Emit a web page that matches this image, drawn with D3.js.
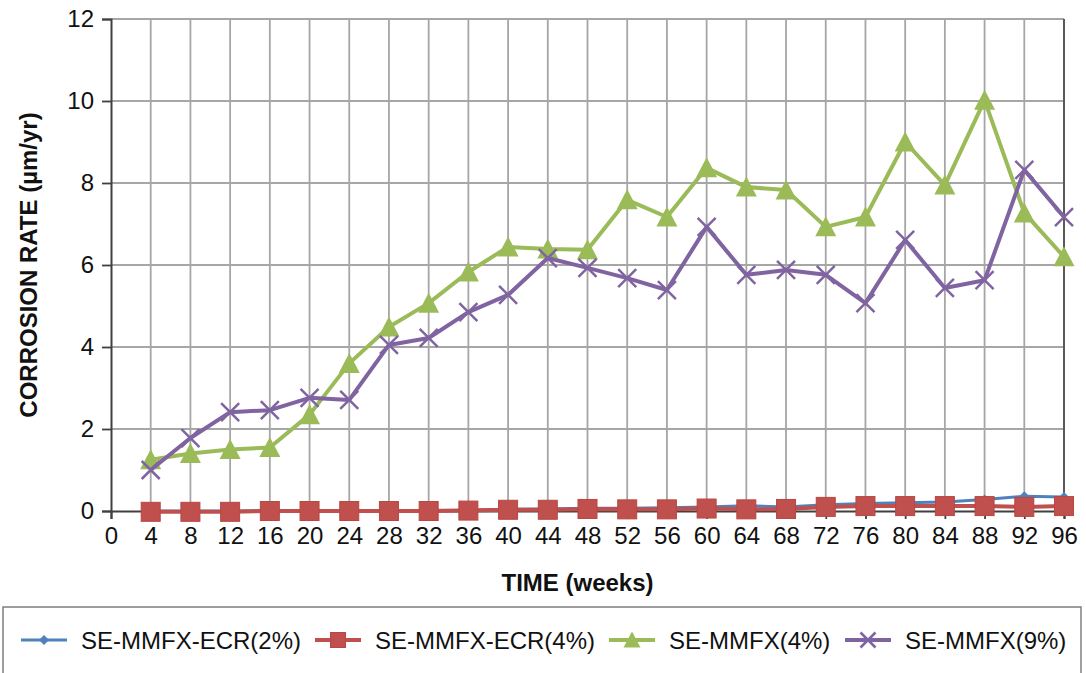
<!DOCTYPE html>
<html><head><meta charset="utf-8">
<script src="https://cdn.jsdelivr.net/npm/d3@7"></script>
<style>body{margin:0;background:#fff}svg{display:block}text{font-family:"Liberation Sans",Arial,sans-serif}</style>
</head><body>
<svg id="c" width="1086" height="673"></svg>
<script>
const weeks = [4,8,12,16,20,24,28,32,36,40,44,48,52,56,60,64,68,72,76,80,84,88,92,96];
const ecr2 = [0.0,0.0,0.0,0.01,0.01,0.01,0.01,0.01,0.02,0.04,0.05,0.07,0.07,0.08,0.1,0.13,0.1,0.15,0.18,0.2,0.22,0.28,0.36,0.34];
const ecr4 = [-0.02,-0.02,-0.02,0.0,0.0,0.0,0.0,0.0,0.01,0.03,0.03,0.05,0.04,0.04,0.06,0.04,0.05,0.1,0.12,0.12,0.12,0.12,0.1,0.12];
const mmfx4 = [1.25,1.4,1.5,1.55,2.35,3.6,4.49,5.07,5.83,6.44,6.39,6.37,7.59,7.17,8.37,7.9,7.83,6.93,7.17,9.0,7.95,10.02,7.27,6.2];
const mmfx9 = [1.0,1.78,2.41,2.46,2.76,2.71,4.05,4.22,4.85,5.27,6.17,5.93,5.68,5.39,6.93,5.76,5.88,5.76,5.07,6.61,5.44,5.63,8.32,7.17];
const seriesNames = ["SE-MMFX-ECR(2%)","SE-MMFX-ECR(4%)","SE-MMFX(4%)","SE-MMFX(9%)"];
const xTicks = d3.range(0,97,4);
const yTicks = [0,2,4,6,8,10,12];
const xTitle = "TIME (weeks)";
const yTitle = "CORROSION RATE (µm/yr)";

const series = [
  {name:seriesNames[0], values:ecr2, color:"#4F81BD", marker:"diamond", size:10, lw:3},
  {name:seriesNames[1], values:ecr4, color:"#C0504D", marker:"square", size:19, lw:4},
  {name:seriesNames[2], values:mmfx4, color:"#9BBB59", marker:"triangle", size:19, lw:4},
  {name:seriesNames[3], values:mmfx9, color:"#8064A2", marker:"x", size:18, lw:4}
];

const svg = d3.select("#c");
const x = d3.scaleLinear().domain([0,96]).range([111,1064]);
const y = d3.scaleLinear().domain([0,12]).range([511,19]);

// gridlines
const g = svg.append("g");
g.selectAll("line.h").data(yTicks.filter(d=>d>0)).enter().append("line")
  .attr("x1",x(0)).attr("x2",x(96)).attr("y1",d=>y(d)).attr("y2",d=>y(d))
  .attr("stroke","#a6a6a6").attr("stroke-width",1.8);
g.selectAll("line.v").data(xTicks.filter(d=>d>0 && d<96)).enter().append("line")
  .attr("x1",d=>x(d)).attr("x2",d=>x(d)).attr("y1",y(12)).attr("y2",y(0))
  .attr("stroke","#a6a6a6").attr("stroke-width",1.8);
// right border
svg.append("line").attr("x1",x(96)).attr("x2",x(96)).attr("y1",y(12)).attr("y2",y(0))
  .attr("stroke","#595959").attr("stroke-width",2);

// axes
const xAxis = svg.append("g").attr("transform",`translate(0,${y(0)})`)
  .call(d3.axisBottom(x).tickValues(xTicks).tickSize(8).tickPadding(8));
const yAxis = svg.append("g").attr("transform",`translate(${x(0)},0)`)
  .call(d3.axisLeft(y).tickValues(yTicks).tickSize(9).tickPadding(8));
[xAxis,yAxis].forEach(a=>{
  a.select(".domain").attr("stroke","#404040").attr("stroke-width",2);
  a.selectAll(".tick line").attr("stroke","#404040").attr("stroke-width",1.8);
  a.selectAll("text").attr("font-size",24).attr("fill","#111").style("font-family","'Liberation Sans',Arial,sans-serif");
});

// marker drawing
function drawMarker(sel, s){
  const h = s.size/2;
  if(s.marker==="square"){
    sel.append("rect").attr("x",-h).attr("y",-h).attr("width",s.size).attr("height",s.size)
      .attr("fill",s.color).attr("stroke","#b84642").attr("stroke-width",1);
  } else if(s.marker==="diamond"){
    sel.append("path").attr("d",`M0,${-h}L${h},0L0,${h}L${-h},0Z`).attr("fill",s.color);
  } else if(s.marker==="triangle"){
    sel.append("path").attr("d",`M0,${-h-1}L${h+1},${h}L${-h-1},${h}Z`).attr("fill",s.color);
  } else {
    sel.append("path").attr("d",`M${-h},${-h}L${h},${h}M${-h},${h}L${h},${-h}`)
      .attr("stroke",s.color).attr("stroke-width",2.5).attr("fill","none");
  }
}

const line = d3.line().x(d=>x(d[0])).y(d=>y(d[1]));
series.forEach(s=>{
  const pts = weeks.map((w,i)=>[w,s.values[i]]);
  const gs = svg.append("g");
  gs.append("path").datum(pts).attr("d",line).attr("fill","none")
    .attr("stroke",s.color).attr("stroke-width",s.lw).attr("stroke-linejoin","round");
  pts.forEach(p=>{
    const m = gs.append("g").attr("transform",`translate(${x(p[0])},${y(p[1])})`);
    drawMarker(m,s);
  });
});

// titles
svg.append("text").attr("x",(x(0)+x(96))/2 - 10).attr("y",591).attr("text-anchor","middle")
  .attr("font-size",24).attr("font-weight","bold").attr("fill","#111").text(xTitle);
svg.append("text").attr("transform",`translate(37,${(y(0)+y(12))/2}) rotate(-90)`)
  .attr("text-anchor","middle").attr("font-size",24).attr("font-weight","bold").attr("fill","#111").text(yTitle);

// legend
svg.append("rect").attr("x",3).attr("y",607).attr("width",1078).attr("height",80)
  .attr("fill","#fff").attr("stroke","#7f7f7f").attr("stroke-width",1.5);
const legX = [21,315,609,845];
series.forEach((s,i)=>{
  const lg = svg.append("g").attr("transform",`translate(${legX[i]},640)`);
  lg.append("line").attr("x1",0).attr("x2",46).attr("stroke",s.color).attr("stroke-width",s.lw);
  const m = lg.append("g").attr("transform","translate(23,0)");
  drawMarker(m, Object.assign({}, s, {size: s.marker==="diamond"?10:15}));
  lg.append("text").attr("x",60).attr("y",8.5).attr("font-size",24).attr("fill","#111").text(s.name);
});
</script>
</body></html>
